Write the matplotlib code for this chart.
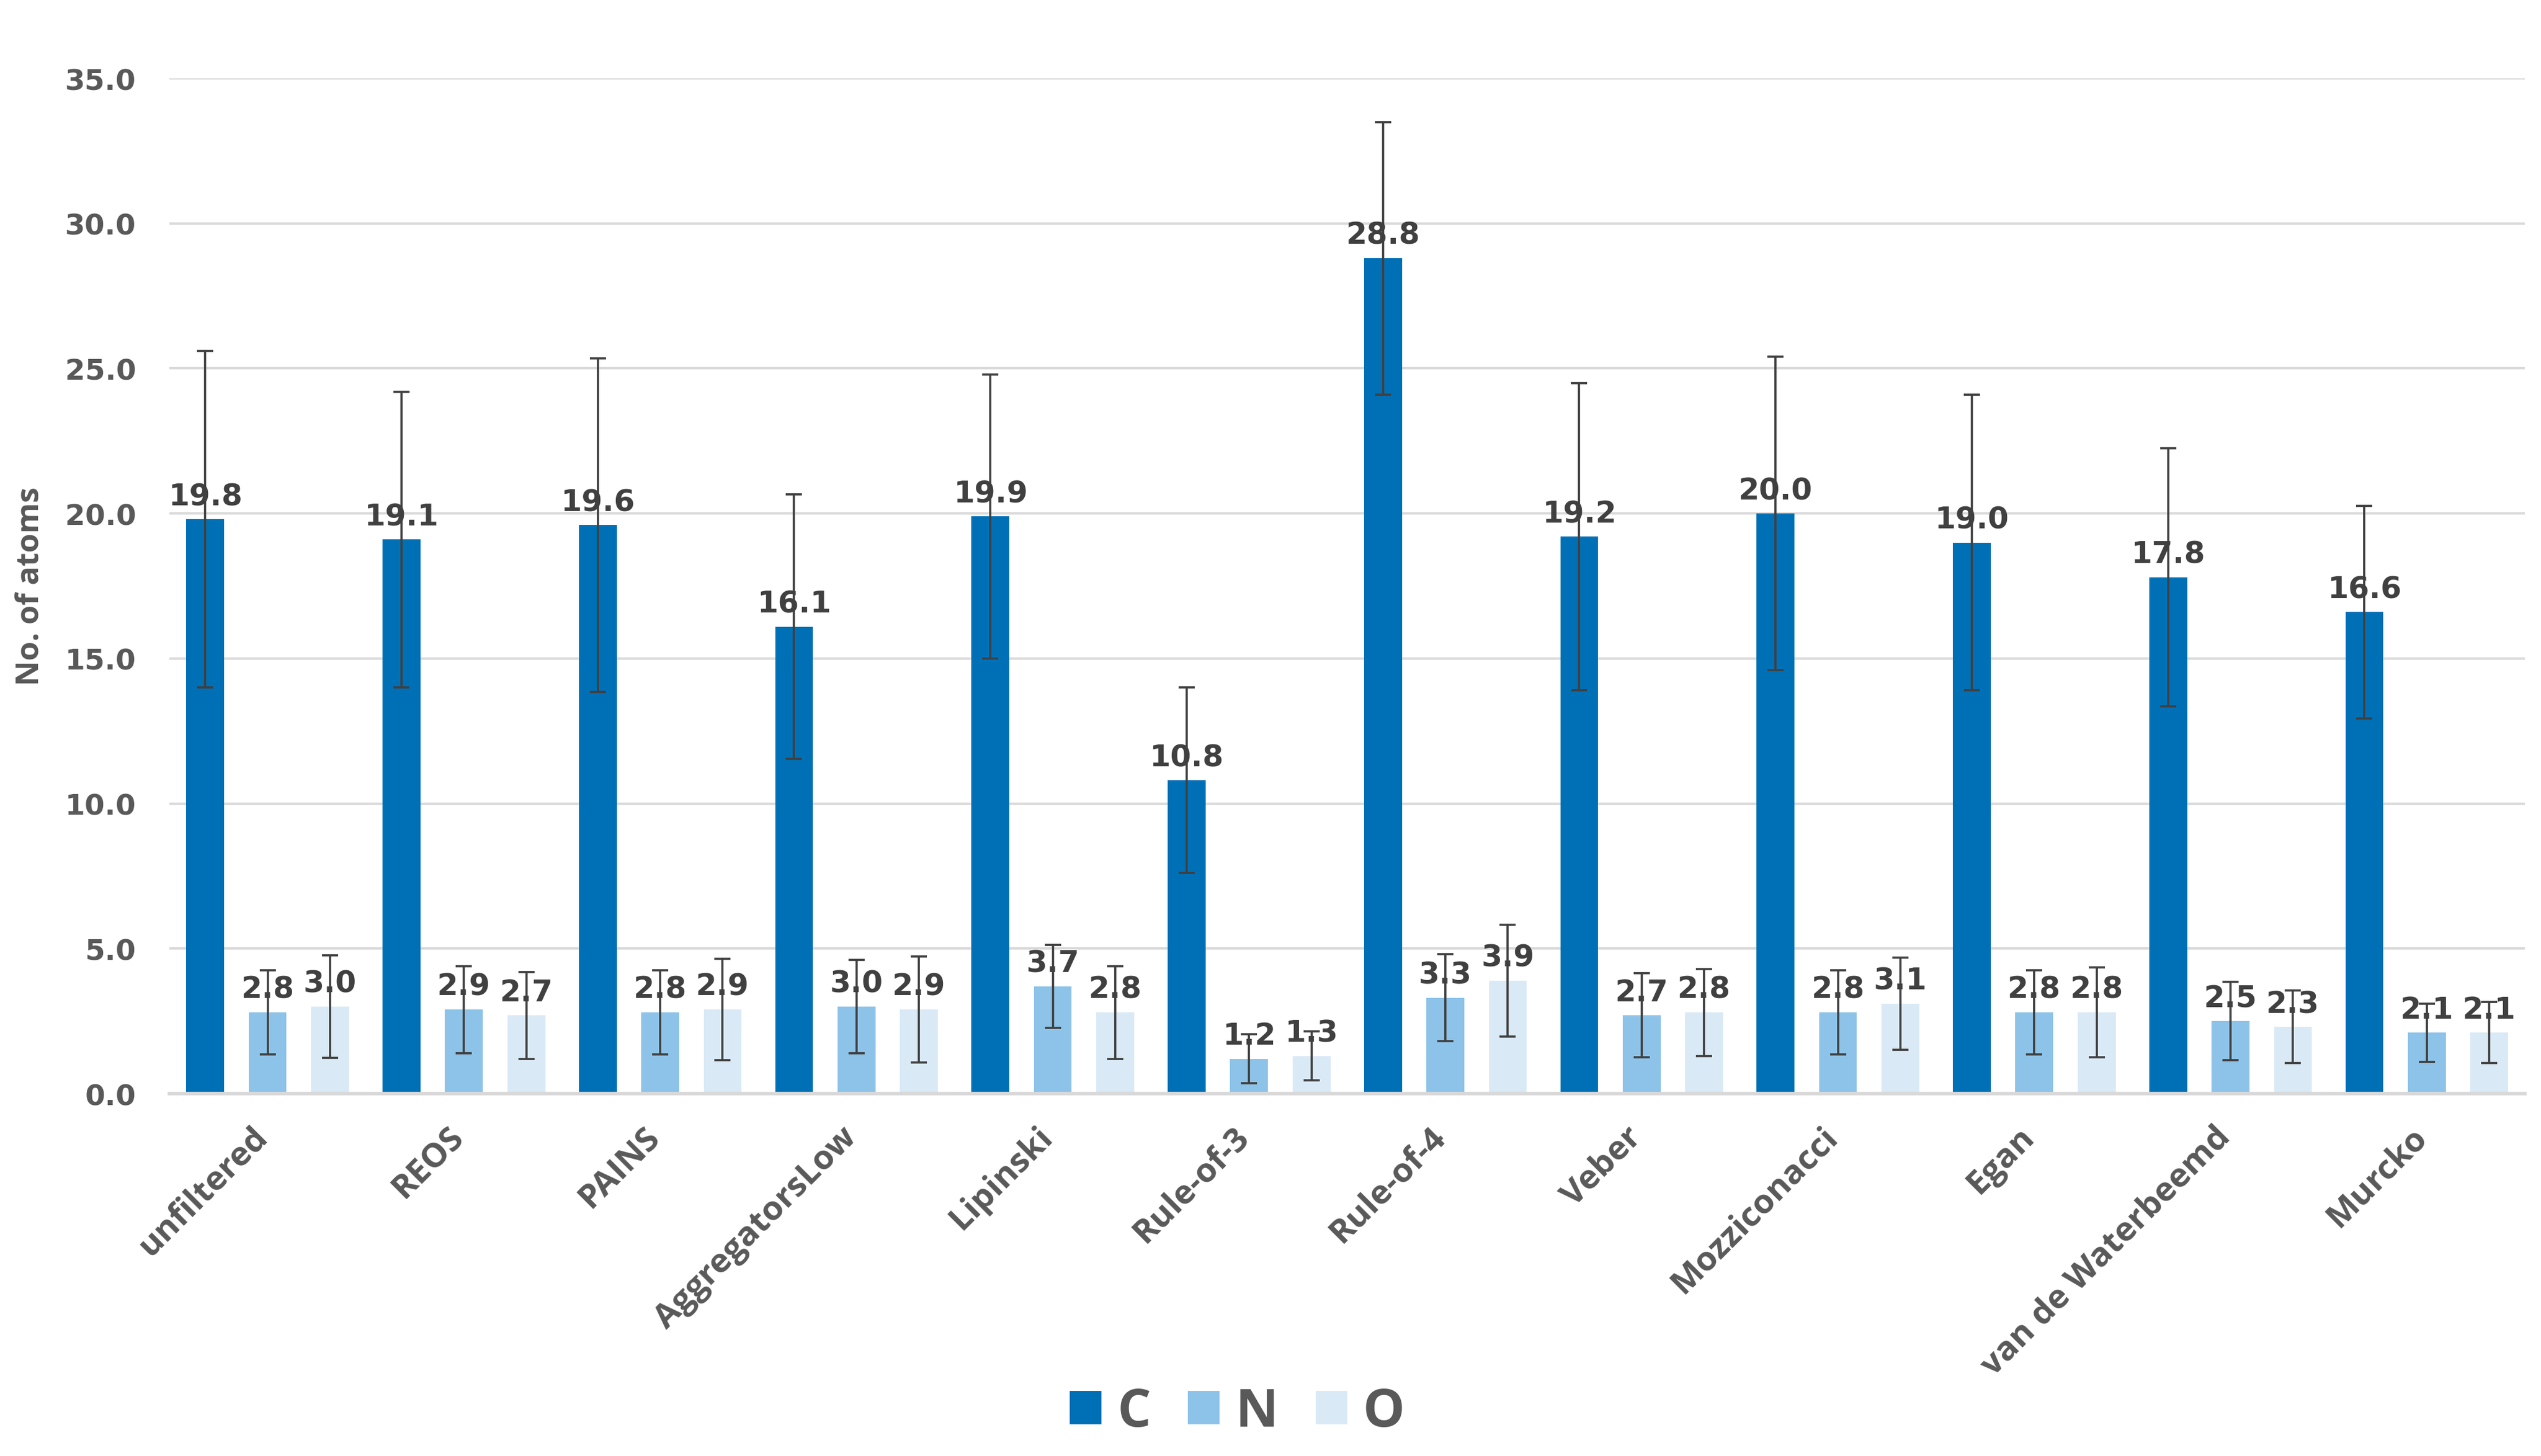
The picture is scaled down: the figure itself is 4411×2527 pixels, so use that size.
# bar chart of C/N/O atom counts per filter, with std error bars
import matplotlib.pyplot as plt
from matplotlib.transforms import ScaledTranslation
import numpy as np

categories = ["unfiltered", "REOS", "PAINS", "AggregatorsLow", "Lipinski", "Rule-of-3",
              "Rule-of-4", "Veber", "Mozziconacci", "Egan", "van de Waterbeemd", "Murcko"]
series_names = ["C", "N", "O"]

c_values = [19.8, 19.1, 19.6, 16.1, 19.9, 10.8, 28.8, 19.2, 20.0, 19.0, 17.8, 16.6]
n_values = [2.8, 2.9, 2.8, 3.0, 3.7, 1.2, 3.3, 2.7, 2.8, 2.8, 2.5, 2.1]
o_values = [3.0, 2.7, 2.9, 2.9, 2.8, 1.3, 3.9, 2.8, 3.1, 2.8, 2.3, 2.1]

c_errors = [5.8, 5.1, 5.75, 4.55, 4.9, 3.2, 4.7, 5.3, 5.4, 5.1, 4.45, 3.67]
n_errors = [1.45, 1.5, 1.45, 1.6, 1.43, 0.85, 1.5, 1.45, 1.45, 1.45, 1.35, 1.0]
o_errors = [1.77, 1.5, 1.75, 1.83, 1.6, 0.85, 1.93, 1.5, 1.58, 1.55, 1.25, 1.05]

colors = ["#0070B6", "#8DC3E8", "#DAE9F6"]
values = [c_values, n_values, o_values]
errors = [c_errors, n_errors, o_errors]

label_color = "#404040"
axis_color = "#595959"
text_font = "Open Sans"

fig = plt.figure(figsize=(4411 / 300, 2528 / 300), dpi=300)
ax = fig.add_axes([0.0667, 0.2488, 0.927, 0.697])

x = np.arange(len(categories))
width = 0.193
step = 0.318

for i in range(3):
    pos = x + (i - 1) * step
    ax.bar(pos, values[i], width, color=colors[i], label=series_names[i], zorder=2)
    for xp, v in zip(pos, values[i]):
        ax.annotate(f"{v:.1f}", (xp, v), xytext=(0, 3.4), textcoords="offset points",
                    ha="center", va="bottom", fontsize=12.5, fontweight="bold",
                    color=label_color, family="DejaVu Sans", zorder=3)
    ax.errorbar(pos, values[i], yerr=errors[i], fmt="none", ecolor=label_color,
                elinewidth=0.9, capsize=3.4, capthick=0.9, zorder=4)

ax.set_xlim(-0.5, len(categories) - 0.5)
ax.set_ylim(0, 35)
yticks = np.arange(0, 35.1, 5)
ax.set_yticks(yticks)
ax.set_yticklabels([f"{t:.1f}" for t in yticks], fontsize=12,
                   fontweight="bold", color=axis_color, family="DejaVu Sans")
ax.yaxis.grid(True, color="#D9D9D9", linewidth=1.0, zorder=0)
ax.set_axisbelow(True)
ax.tick_params(axis="both", length=0)
ax.tick_params(axis="y", pad=14)

ax.set_xticks(x)
ax.set_xticklabels(categories, rotation=45, ha="right", va="top", rotation_mode="anchor",
                   fontsize=14, fontweight="bold", color=axis_color, family=text_font)
ax.tick_params(axis="x", pad=11)
shift = ScaledTranslation(-7 / 72, 0, fig.dpi_scale_trans)
for lbl in ax.get_xticklabels():
    lbl.set_transform(lbl.get_transform() + shift)

for side in ["top", "right", "left"]:
    ax.spines[side].set_visible(False)
ax.spines["bottom"].set_color("#D9D9D9")
ax.spines["bottom"].set_linewidth(1.5)

ax.set_ylabel("No. of atoms", fontsize=13, fontweight="bold", color=axis_color,
              family=text_font, labelpad=8)

leg = fig.legend(loc="center", bbox_to_anchor=(0.487, 0.03), ncol=3, frameon=False,
                 prop={"family": text_font, "weight": "bold", "size": 22},
                 handlelength=0.6, handleheight=0.6, handletextpad=0.3, columnspacing=0.7)
for t in leg.get_texts():
    t.set_color(axis_color)

fig.savefig("out.png", dpi=300, facecolor="white")
